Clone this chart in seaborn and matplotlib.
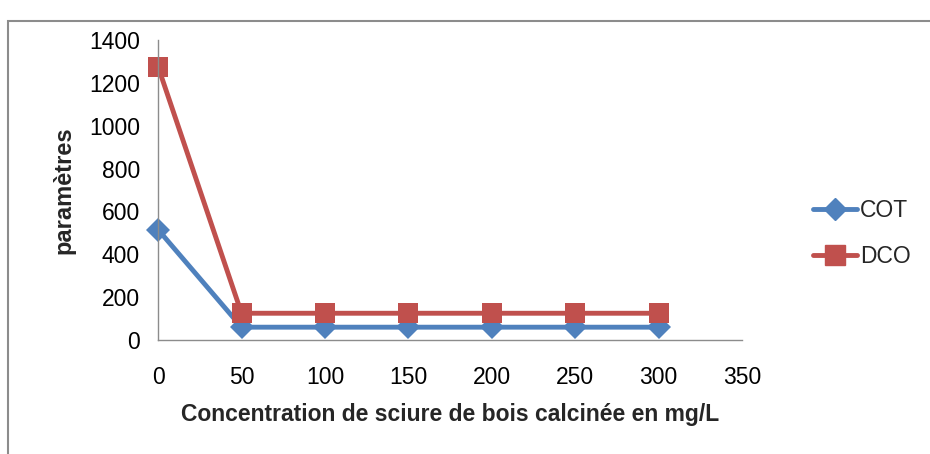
import numpy as np
import pandas as pd
import seaborn as sns
import matplotlib.pyplot as plt
from matplotlib.patches import Rectangle
from matplotlib.lines import Line2D

# data
concentration = [0, 50, 100, 150, 200, 250, 300]
cot = [515, 60, 60, 60, 60, 60, 60]
dco = [1275, 125, 125, 125, 125, 125, 125]
series_names = ["COT", "DCO"]
x_ticks = [0, 50, 100, 150, 200, 250, 300, 350]
y_ticks = [0, 200, 400, 600, 800, 1000, 1200, 1400]

df = pd.DataFrame({
    "conc": concentration * 2,
    "val": cot + dco,
    "serie": [series_names[0]] * len(cot) + [series_names[1]] * len(dco),
})

sns.set_style("white")
plt.rcParams["font.family"] = ["Liberation Sans", "DejaVu Sans"]

fig = plt.figure(figsize=(9.3, 4.54), dpi=100)
ax = fig.add_axes([0.170, 0.251, 0.628, 0.661])

# outer chart border (partially clipped like the original)
fig.patches.append(Rectangle((8 / 930, -0.1), 1.1, (454 - 21) / 454 + 0.1,
                             transform=fig.transFigure, fill=False,
                             edgecolor="#8c8c8c", linewidth=1.5))

sns.lineplot(data=df, x="conc", y="val", hue="serie", style="serie",
             palette={"COT": "#4F81BD", "DCO": "#C0504D"},
             markers={"COT": "D", "DCO": "s"}, dashes=False,
             linewidth=3.5, markersize=15, markeredgewidth=0,
             ax=ax, legend=False)
for ln in ax.lines:
    ln.set_clip_on(False)
    if ln.get_marker() == "D":
        ln.set_markersize(12)

ax.set_xlim(0, 350)
ax.set_ylim(0, 1400)
ax.set_xticks(x_ticks)
ax.set_yticks(y_ticks)
ax.tick_params(axis="both", labelsize=16.5, colors="#8c8c8c", labelcolor="black",
               length=6, width=1, direction="out")
ax.tick_params(axis="x", pad=13)
ax.tick_params(axis="y", pad=7)
for s in ["top", "right"]:
    ax.spines[s].set_visible(False)
for s in ["left", "bottom"]:
    ax.spines[s].set_color("#8c8c8c")
    ax.spines[s].set_linewidth(1)

ax.set_xlabel("Concentration de sciure de bois calcinée en mg/L",
              fontsize=16.5, fontweight="bold", labelpad=10)
ax.set_ylabel("paramètres", fontsize=17, fontweight="bold", labelpad=10)

# legend
handles = [Line2D([], [], color="#4F81BD", marker="D", markersize=11, linewidth=3.5),
           Line2D([], [], color="#C0504D", marker="s", markersize=15, linewidth=3.5)]
fig.legend(handles, series_names, loc="center left",
           bbox_to_anchor=(0.852, 0.485), frameon=False, fontsize=16.5,
           handlelength=1.9, labelspacing=1.0, handletextpad=0.15)

fig.savefig("out.png", dpi=100)
